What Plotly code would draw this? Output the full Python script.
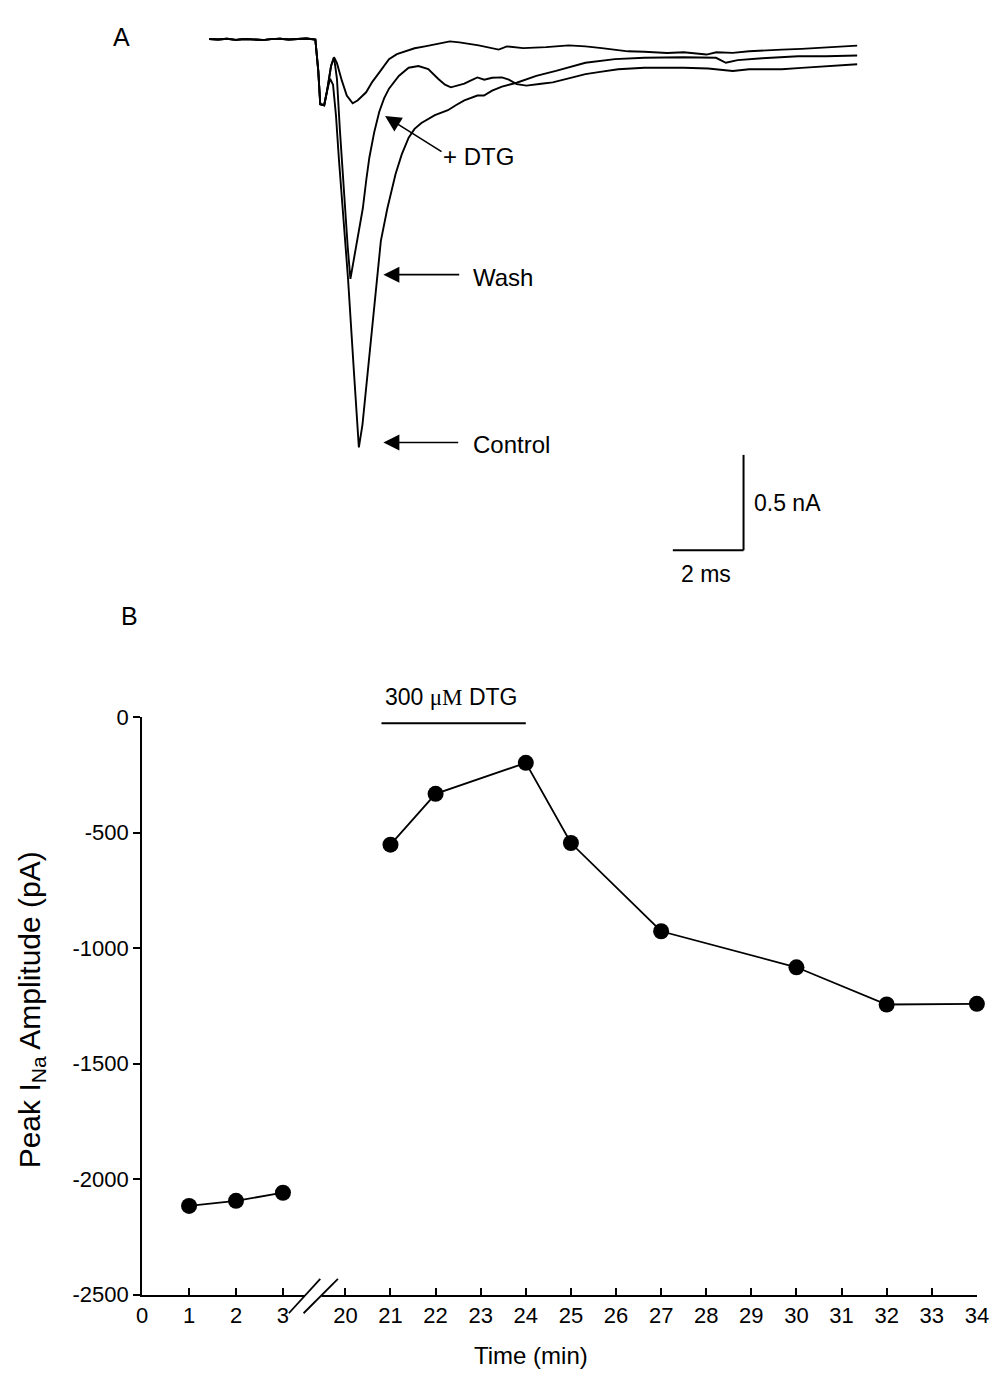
import plotly.graph_objects as go

FONT = "Liberation Sans, Arial, sans-serif"
SERIF = "Liberation Serif, Times New Roman, serif"
W, H = 1004, 1395

# ---------------- Panel A: sodium current traces (ms, nA) ----------------
base_t = [0.0, 0.25, 0.5, 0.75, 1.0, 1.25, 1.5, 1.75, 2.0, 2.25, 2.5, 2.75, 3.0]
base_i = [0.003, 0.0, 0.004, -0.002, 0.003, 0.001, -0.003, 0.002, 0.004, 0.0, 0.003, 0.005, 0.0]
onset_t = [3.083, 3.139, 3.25, 3.333]
onset_i = [-0.165, -0.340, -0.345, -0.268]

dtg_t = base_t + onset_t + [3.444, 3.528, 3.611, 3.75, 3.889, 4.056, 4.194, 4.436, 4.611, 4.806,
                            5.083, 5.306, 5.547, 5.806, 6.103, 6.556, 6.806, 7.075, 7.306, 7.619,
                            8.186, 8.417, 8.881, 9.528, 10.167, 10.639, 11.103, 11.519, 11.842,
                            12.306, 12.953, 13.417, 14.064, 14.342, 14.806, 15.269, 15.778,
                            16.194, 16.75, 17.119, 17.722, 18.325]
dtg_i = base_i + onset_i + [-0.139, -0.093, -0.124, -0.216, -0.294, -0.335, -0.320, -0.277, -0.222,
                            -0.174, -0.103, -0.077, -0.062, -0.046, -0.036, -0.019, -0.010, -0.015,
                            -0.021, -0.031, -0.053, -0.036, -0.045, -0.040, -0.031, -0.036, -0.045,
                            -0.053, -0.062, -0.064, -0.071, -0.067, -0.079, -0.067, -0.070, -0.062,
                            -0.059, -0.053, -0.049, -0.045, -0.039, -0.032]

wash_t = base_t + onset_t + [3.444, 3.528, 3.611, 3.694, 3.833, 3.917, 3.992, 4.056, 4.175, 4.342,
                             4.444, 4.528, 4.667, 4.806, 4.944, 5.083, 5.361, 5.639, 5.917, 6.194,
                             6.472, 6.667, 6.833, 7.028, 7.214, 7.389, 7.583, 7.778, 8.0, 8.278,
                             8.472, 8.694, 8.972, 9.389, 9.714, 10.222, 10.639, 11.056, 11.564,
                             12.306, 13.417, 14.111, 14.806, 15.269, 16.194, 16.75, 17.583, 18.325]
wash_i = base_i + onset_i + [-0.139, -0.093, -0.206, -0.474, -0.887, -1.093, -1.256, -1.186, -1.057,
                             -0.887, -0.732, -0.619, -0.485, -0.380, -0.309, -0.258, -0.191, -0.148,
                             -0.139, -0.155, -0.206, -0.237, -0.251, -0.242, -0.232, -0.216, -0.199,
                             -0.211, -0.201, -0.199, -0.211, -0.234, -0.242, -0.232, -0.225, -0.201,
                             -0.182, -0.170, -0.156, -0.148, -0.148, -0.152, -0.165, -0.156, -0.156,
                             -0.149, -0.139, -0.130]

ctrl_t = base_t + onset_t + [3.417, 3.5, 3.583, 3.667, 3.769, 3.925, 4.092, 4.231, 4.333, 4.481,
                             4.611, 4.731, 4.853, 5.036, 5.139, 5.269, 5.444, 5.639, 5.806, 6.0,
                             6.381, 6.75, 6.972, 7.214, 7.583, 7.769, 8.0, 8.278, 8.694, 9.25,
                             9.806, 10.639, 11.472, 12.306, 13.417, 14.333, 14.611, 14.944,
                             15.639, 16.658, 17.444, 18.325]
ctrl_i = base_i + onset_i + [-0.206, -0.237, -0.397, -0.629, -0.887, -1.256, -1.746, -2.141, -2.021,
                             -1.746, -1.495, -1.256, -1.057, -0.887, -0.799, -0.706, -0.603, -0.515,
                             -0.469, -0.438, -0.397, -0.371, -0.345, -0.320, -0.294, -0.294, -0.268,
                             -0.247, -0.227, -0.191, -0.165, -0.122, -0.103, -0.096, -0.093, -0.096,
                             -0.122, -0.108, -0.098, -0.088, -0.088, -0.084]

# scale bar lengths
bar_nA = 0.5
bar_ms = 2.0

# ---------------- Panel B: peak I_Na time course ----------------
time_pre = [1, 2, 3]
amp_pre = [-2116, -2094, -2059]
time_post = [21, 22, 24, 25, 27, 30, 32, 34]
amp_post = [-552, -332, -198, -545, -927, -1083, -1244, -1241]
ticks_pre = [0, 1, 2, 3]
ticks_post = list(range(20, 35))
y_ticks = [0, -500, -1000, -1500, -2000, -2500]
y_tick_text = ["0", "-500", "-1000", "-1500", "-2000", "-2500"]
dtg_start, dtg_end = 20.8, 24.0

fig = go.Figure()

trace_style = dict(mode="lines", line=dict(color="black", width=1.9), hoverinfo="skip",
                   xaxis="x3", yaxis="y3")
for tt, ii in [(ctrl_t, ctrl_i), (wash_t, wash_i), (dtg_t, dtg_i)]:
    fig.add_trace(go.Scatter(x=tt, y=ii, **trace_style))

pt_style = dict(mode="lines+markers", line=dict(color="black", width=1.8),
                marker=dict(color="black", size=16), cliponaxis=False, yaxis="y")
fig.add_trace(go.Scatter(x=time_pre, y=amp_pre, xaxis="x", **pt_style))
fig.add_trace(go.Scatter(x=time_post, y=amp_post, xaxis="x2", **pt_style))

axis_common = dict(showline=True, linecolor="black", linewidth=2, showgrid=False,
                   zeroline=False, tickfont=dict(family=FONT, size=22, color="black"),
                   tickcolor="black", tickwidth=1.5)

split = 313.75 / W
fig.update_layout(
    width=W, height=H, margin=dict(l=0, r=0, t=0, b=0),
    paper_bgcolor="white", plot_bgcolor="white", showlegend=False,
    xaxis=dict(domain=[138.6 / W, split], range=[0, 3.664], anchor="y",
               ticks="inside", ticklen=7, tickvals=ticks_pre, **axis_common),
    xaxis2=dict(domain=[split, 988.6 / W], range=[19.307, 34], anchor="y",
                ticks="inside", ticklen=7, tickvals=ticks_post, **axis_common),
    yaxis=dict(domain=[1 - 1306 / H, 1 - 718 / H], range=[-2500, 0], anchor="x",
               ticks="outside", ticklen=7, tickvals=y_ticks, ticktext=y_tick_text, **axis_common),
    xaxis3=dict(domain=[200 / W, 880 / W], range=[-0.194, 18.694], visible=False, anchor="y3"),
    yaxis3=dict(domain=[1 - 600 / H, 1 - 10 / H], range=[-2.948, 0.0928], visible=False, anchor="x3"),
)

# scale bar (panel A)
sb_x = 15.111
sb_y = -2.68
fig.add_shape(type="line", xref="x3", yref="y3", x0=sb_x, x1=sb_x, y0=sb_y, y1=sb_y + bar_nA,
              line=dict(color="black", width=2))
fig.add_shape(type="line", xref="x3", yref="y3", x0=sb_x - bar_ms, x1=sb_x, y0=sb_y, y1=sb_y,
              line=dict(color="black", width=2))

# DTG application bar (panel B)
fig.add_shape(type="line", xref="x2", yref="y", x0=dtg_start, x1=dtg_end, y0=-26, y1=-26,
              line=dict(color="black", width=2))

# axis break marks
fig.add_shape(type="path", xref="paper", yref="paper", layer="above",
              path=f"M {303/W},{1-1311/H} L {320/W},{1-1311/H} L {324/W},{1-1301/H} L {307/W},{1-1301/H} Z",
              fillcolor="white", line=dict(width=0))
for x0, x1 in [(288, 320), (303, 338)]:
    fig.add_shape(type="line", xref="paper", yref="paper", layer="above",
                  x0=x0 / W, y0=1 - 1325 / H, x1=x1 / W, y1=1 - 1290 / H,
                  line=dict(color="black", width=1.8))

def txt(text, x, y, size=23, xanchor="left", **kw):
    fig.add_annotation(text=text, x=x / W, y=1 - y / H, xref="paper", yref="paper",
                       xanchor=xanchor, yanchor="middle", showarrow=False,
                       font=dict(family=FONT, size=size, color="black"), **kw)

def arrow(hx, hy, tx, ty):
    fig.add_annotation(x=hx, y=hy, ax=tx, ay=ty, xref="x3", yref="y3", axref="x3", ayref="y3",
                       text="", showarrow=True, arrowhead=2, arrowsize=2.0, arrowwidth=1.6,
                       arrowcolor="black", standoff=0)

arrow(4.972, -0.402, 6.611, -0.593)
arrow(4.925, -1.234, 7.111, -1.234)
arrow(4.925, -2.115, 7.083, -2.115)

txt("A", 107, 25, size=25)
txt("B", 115, 615, size=25)
txt("+ DTG", 443, 147, size=24)
txt("Wash", 473, 270, size=24)
txt("Control", 473, 440, size=24)
txt("0.5 nA", 760, 500, size=23)
txt("2 ms", 713, 572, size=23, xanchor="center")
txt(f"300 <span style=\"font-family:{SERIF}\">\u03bcM</span> DTG", 454, 697, size=23, xanchor="center")
txt("Time (min)", 535, 1368, size=24, xanchor="center")
txt("Peak I<sub>Na</sub> Amplitude (pA)", 26, 1016, size=30, xanchor="center", textangle=-90)

fig.write_html("out.html")
